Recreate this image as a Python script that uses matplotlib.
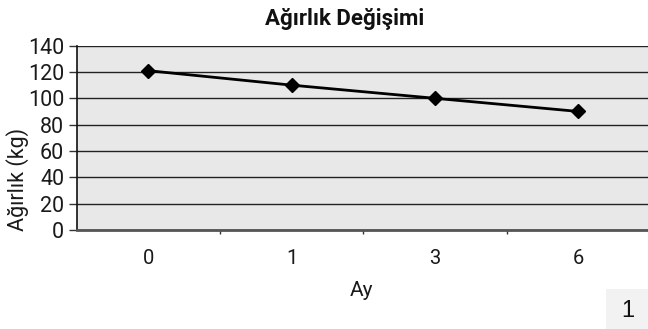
import matplotlib
matplotlib.use("Agg")
import matplotlib.pyplot as plt
from matplotlib.patches import Rectangle

categories = ["0", "1", "3", "6"]
weights = [121, 110, 100, 90]
yticks = [0, 20, 40, 60, 80, 100, 120, 140]
title = "Ağırlık Değişimi"
ylabel = "Ağırlık (kg)"
xlabel = "Ay"
page_number = "1"

font = ["Roboto", "DejaVu Sans"]
tc = "#1a1a1a"
W, H = 648, 329
fig = plt.figure(figsize=(W / 100, H / 100), dpi=100)
fig.patch.set_facecolor("white")

left, right, top, bottom = 76.7, 650, 45.7, 229.8
ax = fig.add_axes([left / W, 1 - bottom / H, (right - left) / W, (bottom - top) / H])
ax.set_facecolor("#e8e8e8")

x = list(range(len(categories)))
ax.plot(x, weights, color="black", lw=2, marker="D", ms=7, mfc="black", mec="black", zorder=3, clip_on=False)

ax.set_xlim(-0.5, len(categories) - 0.5)
ax.set_ylim(0, 140)
ax.set_yticks(yticks)
ax.set_yticklabels([str(v) for v in yticks], family=font, fontsize=15.5, color=tc)
ax.set_xticks([i + 0.5 for i in x[:-1]])
ax.set_xticklabels([])
ax.set_xticks(x, minor=True)
ax.set_xticklabels(categories, minor=True, family=font, fontsize=14.5, color=tc)
ax.tick_params(axis="x", which="major", length=3, width=1, color="#333333", direction="out")
ax.tick_params(axis="x", which="minor", length=0, pad=14)
ax.tick_params(axis="y", length=6, width=1, color="#333333", pad=3)

ax.yaxis.grid(True, color="#222222", lw=1)
ax.set_axisbelow(True)
for s in ["top", "right"]:
    ax.spines[s].set_visible(False)
ax.spines["left"].set_color("#111111")
ax.spines["left"].set_linewidth(1.2)
ax.spines["bottom"].set_color("#555555")
ax.spines["bottom"].set_linewidth(2)

fig.text(345 / W, 1 - 19 / H, title, ha="center", va="center", fontsize=16,
         fontweight="bold", family=font, color="#111111")
fig.text(18 / W, 1 - 179 / H, ylabel, ha="center", va="center", rotation=90,
         fontsize=15.5, family=font, color=tc)
fig.text(361 / W, 1 - 290 / H, xlabel, ha="center", va="center",
         fontsize=15, family=font, color=tc)

fig.patches.append(Rectangle((606 / W, 0), (W - 606) / W, (329 - 289) / H,
                             transform=fig.transFigure, facecolor="#f2f2f2", edgecolor="none"))
fig.text(628 / W, 1 - 311 / H, page_number, ha="center", va="center", fontsize=17,
         family=["Liberation Sans", "DejaVu Sans"], color="#111111")

fig.savefig("out.png", dpi=100)
